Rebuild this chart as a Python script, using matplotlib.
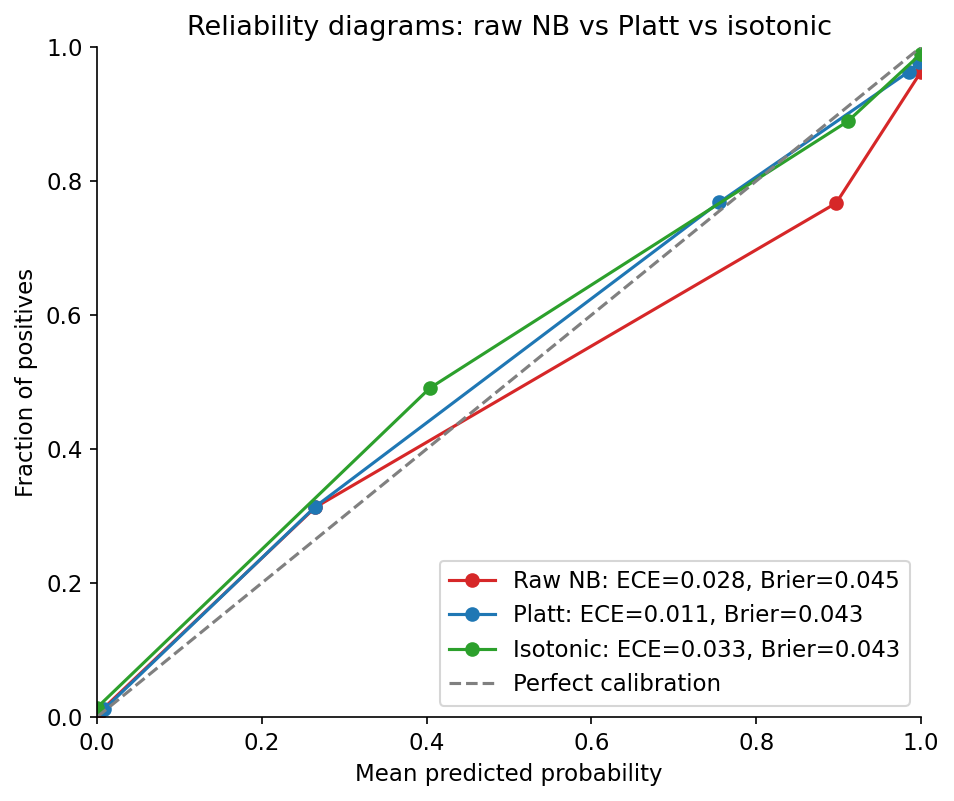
import matplotlib
matplotlib.use('Agg')
import matplotlib.pyplot as plt

# reliability curves
raw_x = [0.002, 0.265, 0.897, 1.0]
raw_y = [0.006, 0.313, 0.767, 0.963]
platt_x = [0.009, 0.265, 0.755, 0.985, 0.998]
platt_y = [0.012, 0.314, 0.768, 0.963, 0.978]
iso_x = [0.0, 0.404, 0.911, 1.0]
iso_y = [0.014, 0.491, 0.889, 0.99]

labels = ['Raw NB: ECE=0.028, Brier=0.045',
          'Platt: ECE=0.011, Brier=0.043',
          'Isotonic: ECE=0.033, Brier=0.043',
          'Perfect calibration']

plt.rcParams['font.size'] = 11

fig, ax = plt.subplots(figsize=(6.36, 5.34), dpi=150)
fig.subplots_adjust(left=0.1017, right=0.9654, top=0.9413, bottom=0.1049)

ax.plot(raw_x, raw_y, '-o', color='#d62728', label=labels[0])
ax.plot(platt_x, platt_y, '-o', color='#1f77b4', label=labels[1])
ax.plot(iso_x, iso_y, '-o', color='#2ca02c', label=labels[2])
ax.plot([0, 1], [0, 1], '--', color='gray', label=labels[3])

ax.set_xlim(0, 1)
ax.set_ylim(0, 1)
ax.set_xlabel('Mean predicted probability')
ax.set_ylabel('Fraction of positives')
ax.set_title('Reliability diagrams: raw NB vs Platt vs isotonic', fontsize=13)
ax.spines['top'].set_visible(False)
ax.spines['right'].set_visible(False)
ax.legend(loc='lower right')

fig.savefig('out.png')
